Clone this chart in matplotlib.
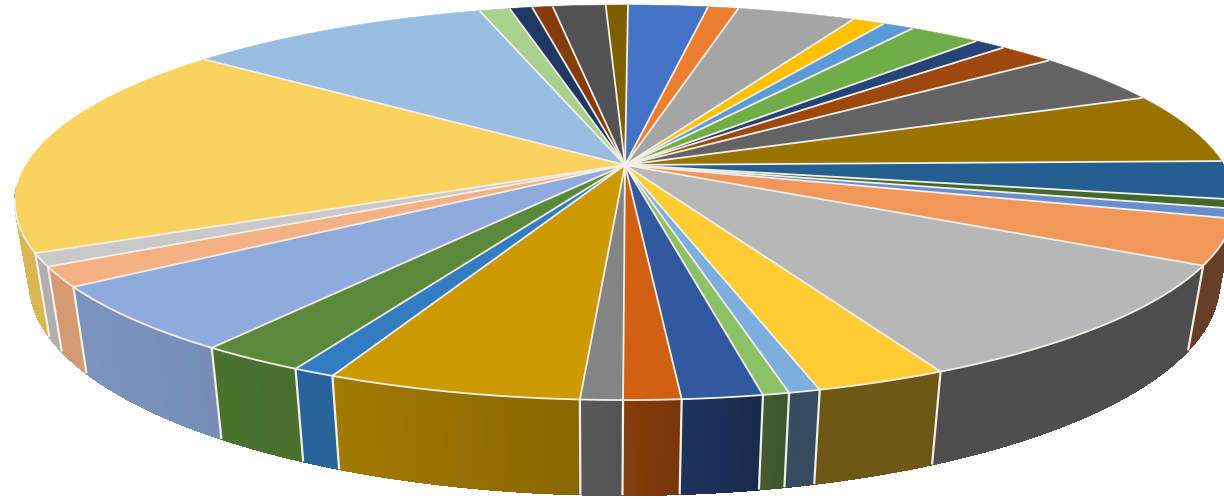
import matplotlib
matplotlib.use("Agg")
import matplotlib.pyplot as plt
from matplotlib.colors import to_rgb
from matplotlib.patches import Polygon
import numpy as np

# slice sizes, clockwise from the top
values = [9.14, 3.48, 13.51, 3.73, 3.6, 8.2, 3.7, 6.5, 15.6, 21.0, 11.3, 2.6,
          2.8, 13.2, 35.4, 10.5, 2.5, 2.1, 6.4, 4.55, 3.35, 20.3, 3.4, 8.5,
          19.5, 5.8, 3.8, 63.5, 35.0, 3.5, 2.6, 2.35, 6.05, 2.54]
colors = ["#4472C4", "#ED7D31", "#A5A5A5", "#FFC000", "#5B9BD5", "#70AD47",
          "#264478", "#9E480E", "#636363", "#997300", "#255E91", "#43682B",
          "#698ED0", "#F1975A", "#B7B7B7", "#FFCD33", "#7CAFDD", "#8CC168",
          "#335AA1", "#D26012", "#848484", "#CC9A00", "#327DC2", "#5A8A39",
          "#8FAADC", "#F4B183", "#C9C9C9", "#FAD25E", "#9ABEE2", "#A9D18E",
          "#203864", "#843C0C", "#525252", "#7F6000"]
start_angle = 0.34

# perspective of the tilted disc, in pixels
cx, cy = 625, 165
a, b, k = 599, 190.4, 0.19
h0 = 77
edge = "#f3efe6"


def top_rim(theta):
    y = np.cos(theta)
    x = np.sin(theta)
    return cx + a * x / (1 + k * y), cy - b * y / (1 + k * y), 1 + k * y


def low_rim(theta):
    u, v, w = top_rim(theta)
    return 600 + 0.975 * (u - 600), v + h0 / w


fig = plt.figure(figsize=(12.24, 4.99), dpi=100)
ax = fig.add_axes([0, 0, 1, 1])
ax.set_xlim(0, 1224)
ax.set_ylim(499, 0)
ax.axis("off")

shares = np.array(values) / sum(values) * 360
ends = start_angle + np.cumsum(shares)
starts = ends - shares

# walls as thin strips so the shade can run along them, front part only
strips = []
for s, e, c in zip(starts, ends, colors):
    th = np.radians(np.linspace(s, e, int(np.ceil(e - s)) * 2 + 2))
    u, v, w = top_rim(th)
    lu, lv = low_rim(th)
    for i in range(len(th) - 1):
        if np.cos(th[i]) > -k + 0.06:
            continue
        f = np.interp((u[i] + u[i + 1]) / 2, [60, 315, 600, 800, 1224],
                      [0.87, 0.8, 0.66, 0.43, 0.42])
        quad = [(u[i], v[i]), (u[i + 1], v[i + 1]), (lu[i + 1], lv[i + 1]), (lu[i], lv[i])]
        strips.append((v[i], quad, np.array(to_rgb(c)) * f))
for _, quad, col in sorted(strips, key=lambda t: t[0]):
    ax.add_patch(Polygon(quad, closed=True, facecolor=col, edgecolor=col,
                         linewidth=0.6, antialiased=False))

# wall separators on the front half only
for deg in starts:
    if 110 < deg < 250:
        t = np.radians(deg)
        u, v, w = top_rim(t)
        lu, lv = low_rim(t)
        ax.plot([u, lu], [v, lv], color=edge, linewidth=1.6, solid_capstyle="butt")

for s, e, c in zip(starts, ends, colors):
    th = np.radians(np.linspace(s, e, 40))
    u, v, w = top_rim(th)
    pts = np.r_[[[cx, cy]], np.c_[u, v]]
    ax.add_patch(Polygon(pts, closed=True, facecolor=c, edgecolor=c, linewidth=0.4))

# radial separators and the front rim
for t in np.radians(starts):
    u, v, w = top_rim(t)
    ax.plot([cx, u], [cy, v], color=edge, linewidth=1.3, solid_capstyle="butt")
th = np.radians(np.linspace(100, 260, 200))
u, v, w = top_rim(th)
ax.plot(u, v, color=edge, linewidth=1.3)

fig.savefig("out.png", dpi=100)
